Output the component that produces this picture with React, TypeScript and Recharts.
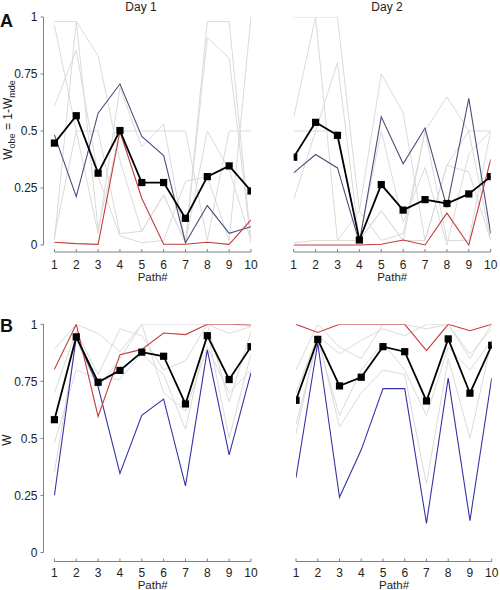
import React from 'react';
import { LineChart, Line, XAxis, YAxis, ReferenceLine } from 'recharts';

// ---------- data ----------
const paths = [1, 2, 3, 4, 5, 6, 7, 8, 9, 10];
const yTicks = [0, 0.25, 0.5, 0.75, 1];

// Panel A, Day 1 (W_obe)
const meanA1 = [0.447, 0.567, 0.315, 0.502, 0.274, 0.274, 0.117, 0.3, 0.347, 0.237];
const blueA1 = [0.483, 0.212, 0.578, 0.706, 0.476, 0.392, 0.01, 0.173, 0.051, 0.08];
const redA1 = [0.012, 0.006, 0.003, 0.498, 0.205, 0.003, 0.003, 0.012, 0.003, 0.11];
const grayA1 = [
  [0.98, 0.98, 0.83, 0.37, 0.06, 0.22, 0.01, 0.98, 0.98, 0.01],
  [0.965, 0.5, 0.05, 0.69, 0.43, 0.53, 0.01, 0.91, 0.82, 0.01],
  [0.61, 0.855, 0.3, 0.04, 0.01, 0.02, 0.28, 0.3, 0.02, 1.0],
  [0.02, 0.98, 0.07, 0.5, 0.5, 0.5, 0.5, 0.02, 0.5, 0.5],
  [0.04, 0.5, 0.5, 0.05, 0.06, 0.22, 0.01, 0.5, 0.33, 0.02],
];

// Panel A, Day 2
const meanA2 = [0.385, 0.538, 0.481, 0.022, 0.265, 0.153, 0.199, 0.182, 0.224, 0.3];
const blueA2 = [0.316, 0.397, 0.338, 0.01, 0.562, 0.356, 0.513, 0.165, 0.643, 0.05];
const redA2 = [0.0, 0.0, 0.0, 0.0, 0.003, 0.022, 0.0, 0.14, 0.0, 0.375];
const grayA2 = [
  [1.0, 1.0, 1.0, 0.15, 0.75, 0.58, 0.02, 0.35, 0.32, 0.02],
  [0.56, 1.0, 0.02, 0.02, 0.15, 0.02, 0.5, 0.65, 0.5, 0.5],
  [0.5, 0.5, 0.5, 0.02, 0.5, 0.1, 0.34, 0.0, 0.4, 0.5],
  [0.2, 0.5, 0.8, 0.02, 0.15, 0.02, 0.02, 0.35, 0.5, 0.02],
  [0.01, 0.02, 0.02, 0.15, 0.02, 0.05, 0.5, 0.02, 0.02, 0.5],
];

// Panel B, Day 1 (W)
const meanB1 = [0.582, 0.945, 0.746, 0.798, 0.878, 0.86, 0.651, 0.95, 0.758, 0.902];
const blueB1 = [0.251, 0.945, 0.727, 0.347, 0.601, 0.672, 0.292, 0.888, 0.428, 0.788];
const redB1 = [0.803, 1.0, 0.596, 0.867, 0.89, 0.962, 0.955, 1.0, 1.0, 0.997];
const grayB1 = [
  [0.89, 1.0, 0.96, 0.88, 1.0, 1.0, 1.0, 1.0, 0.96, 0.99],
  [0.7, 0.97, 0.78, 0.98, 0.95, 0.8, 0.84, 1.0, 0.66, 0.97],
  [0.48, 0.8, 0.76, 0.76, 0.87, 0.78, 0.54, 0.97, 0.5, 0.87],
  [0.35, 0.93, 0.72, 0.85, 1.0, 0.7, 0.62, 0.9, 0.7, 0.8],
];

// Panel B, Day 2
const meanB2 = [0.667, 0.934, 0.73, 0.768, 0.902, 0.88, 0.664, 0.936, 0.698, 0.908];
const blueB2 = [0.328, 0.917, 0.242, 0.45, 0.718, 0.718, 0.128, 0.764, 0.14, 0.764];
const redB2 = [1.0, 0.964, 1.0, 1.0, 1.0, 1.0, 0.885, 1.0, 0.972, 1.0];
const grayB2 = [
  [0.7, 0.95, 0.87, 0.93, 0.98, 0.95, 1.0, 1.0, 0.87, 0.98],
  [0.56, 0.93, 0.6, 0.8, 0.92, 0.8, 0.6, 0.9, 0.8, 0.93],
  [0.52, 0.95, 0.55, 0.7, 0.8, 0.78, 0.3, 0.85, 0.5, 0.93],
  [0.8, 1.0, 0.9, 0.85, 1.0, 1.0, 0.98, 1.0, 0.85, 1.0],
];

// ---------- helpers ----------
const FONT = '"Liberation Sans", Arial, Helvetica, sans-serif';
const AXIS = '#808080';
const GRAY = '#dadada';
const RED = '#c43c3c';

function buildRows(grays: number[][], blue: number[], red: number[], mean: number[]) {
  return paths.map((p, i) => {
    const row: Record<string, number> = { path: p, blue: blue[i], red: red[i], mean: mean[i] };
    grays.forEach((g, k) => {
      row['g' + k] = g[i];
    });
    return row;
  });
}

function XTick(props: any) {
  const { x, y, payload, labelOffset } = props;
  return (
    <g>
      <line x1={x} x2={x} y1={y} y2={y - 3} stroke={AXIS} strokeWidth={1} />
      <text x={x} y={y + (labelOffset ?? 16.5)} textAnchor="middle" fontSize={12} fill="#222" fontFamily={FONT}>
        {payload.value}
      </text>
    </g>
  );
}

function SquareDot(props: any) {
  const { cx, cy, index } = props;
  if (cx == null || cy == null) return <g key={index} />;
  return <rect key={index} x={cx - 3.6} y={cy - 3.6} width={7.2} height={7.2} fill="#000" />;
}

type PanelProps = {
  left: number;
  top: number;
  width: number;
  height: number;
  margin: { top: number; right: number; bottom: number; left: number };
  xAxisHeight: number;
  yMin: number;
  x0: number;
  showY: boolean;
  labelOffset: number;
  grays: number[][];
  blue: number[];
  red: number[];
  mean: number[];
  blueColor: string;
};

function Panel(p: PanelProps) {
  const rows = buildRows(p.grays, p.blue, p.red, p.mean);
  return (
    <div style={{ position: 'absolute', left: p.left, top: p.top, width: p.width, height: p.height }}>
      <LineChart width={p.width} height={p.height} data={rows} margin={p.margin}>
        <XAxis
          dataKey="path"
          type="number"
          domain={[p.x0, 10]}
          ticks={paths}
          interval={0}
          allowDataOverflow
          axisLine={false}
          tickLine={false}
          tickSize={0}
          tickMargin={0}
          height={p.xAxisHeight}
          tick={<XTick labelOffset={p.labelOffset} />}
        />
        <YAxis
          type="number"
          domain={[p.yMin, 1]}
          ticks={yTicks}
          allowDataOverflow
          hide={!p.showY}
          width={43.5}
          axisLine={false}
          tickLine={{ stroke: AXIS }}
          tickSize={3}
          tickMargin={3}
          tick={{ fontSize: 12, fill: '#222', fontFamily: FONT }}
        />
        {p.showY && (
          <ReferenceLine
            segment={[
              { x: p.x0, y: 0 },
              { x: p.x0, y: 1 },
            ]}
            stroke={AXIS}
            strokeWidth={1}
            ifOverflow="visible"
          />
        )}
        <ReferenceLine
          segment={[
            { x: 1, y: p.yMin },
            { x: 10, y: p.yMin },
          ]}
          stroke={AXIS}
          strokeWidth={1}
          ifOverflow="visible"
        />
        {p.grays.map((_, k) => (
          <Line
            key={'g' + k}
            dataKey={'g' + k}
            stroke={GRAY}
            strokeWidth={1}
            dot={false}
            activeDot={false}
            isAnimationActive={false}
            type="linear"
          />
        ))}
        <Line dataKey="blue" stroke={p.blueColor} strokeWidth={1.1} dot={false} activeDot={false} isAnimationActive={false} type="linear" />
        <Line dataKey="red" stroke={RED} strokeWidth={1.1} dot={false} activeDot={false} isAnimationActive={false} type="linear" />
        <Line dataKey="mean" stroke="#000" strokeWidth={1.8} dot={<SquareDot />} activeDot={false} isAnimationActive={false} type="linear" />
      </LineChart>
    </div>
  );
}

export default function App() {
  return (
    <div style={{ position: 'absolute', left: 0, top: 0, width: 500, height: 590, background: '#fff', fontFamily: FONT }}>
      <Panel
        left={0}
        top={0}
        width={260}
        height={290}
        margin={{ top: 17, right: 9, bottom: 8, left: 0 }}
        xAxisHeight={30}
        yMin={-0.0307}
        x0={0.5}
        showY
        labelOffset={16.5}
        grays={grayA1}
        blue={blueA1}
        red={redA1}
        mean={meanA1}
        blueColor="#4d4d7e"
      />
      <Panel
        left={260}
        top={0}
        width={240}
        height={290}
        margin={{ top: 17, right: 9.3, bottom: 8, left: 33.7 }}
        xAxisHeight={30}
        yMin={-0.0307}
        x0={1}
        showY={false}
        labelOffset={16.5}
        grays={grayA2}
        blue={blueA2}
        red={redA2}
        mean={meanA2}
        blueColor="#4d4d7e"
      />
      <Panel
        left={0}
        top={290}
        width={260}
        height={300}
        margin={{ top: 34.3, right: 9, bottom: 0, left: 0 }}
        xAxisHeight={28.5}
        yMin={-0.0394}
        x0={0.5}
        showY
        labelOffset={15}
        grays={grayB1}
        blue={blueB1}
        red={redB1}
        mean={meanB1}
        blueColor="#3434a6"
      />
      <Panel
        left={260}
        top={290}
        width={240}
        height={300}
        margin={{ top: 34.3, right: 8.3, bottom: 0, left: 36 }}
        xAxisHeight={28.5}
        yMin={-0.0394}
        x0={1}
        showY={false}
        labelOffset={15}
        grays={grayB2}
        blue={blueB2}
        red={redB2}
        mean={meanB2}
        blueColor="#3434a6"
      />
      <svg
        width={500}
        height={590}
        style={{ position: 'absolute', left: 0, top: 0, pointerEvents: 'none' }}
        fontFamily={FONT}
      >
        <text x={141} y={10.5} textAnchor="middle" fontSize={12} fill="#222">Day 1</text>
        <text x={387} y={10.5} textAnchor="middle" fontSize={12} fill="#222">Day 2</text>
        <text x={0} y={27} fontSize={18} fontWeight="bold" fill="#111">A</text>
        <text x={0} y={332} fontSize={18} fontWeight="bold" fill="#111">B</text>
        <text transform="translate(11.5,120) rotate(-90)" textAnchor="middle" fontSize={12} fill="#222">
          W<tspan dy={3} fontSize={9}>obe</tspan>
          <tspan dy={-3}> = 1-W</tspan>
          <tspan dy={3} fontSize={9}>mde</tspan>
        </text>
        <text transform="translate(10.5,440) rotate(-90)" textAnchor="middle" fontSize={12} fill="#222">W</text>
        <text x={152.7} y={280.5} textAnchor="middle" fontSize={11.5} fill="#222">Path#</text>
        <text x={392.2} y={280.5} textAnchor="middle" fontSize={11.5} fill="#222">Path#</text>
        <text x={152.7} y={589} textAnchor="middle" fontSize={11.5} fill="#222">Path#</text>
        <text x={394} y={589} textAnchor="middle" fontSize={11.5} fill="#222">Path#</text>
      </svg>
    </div>
  );
}
